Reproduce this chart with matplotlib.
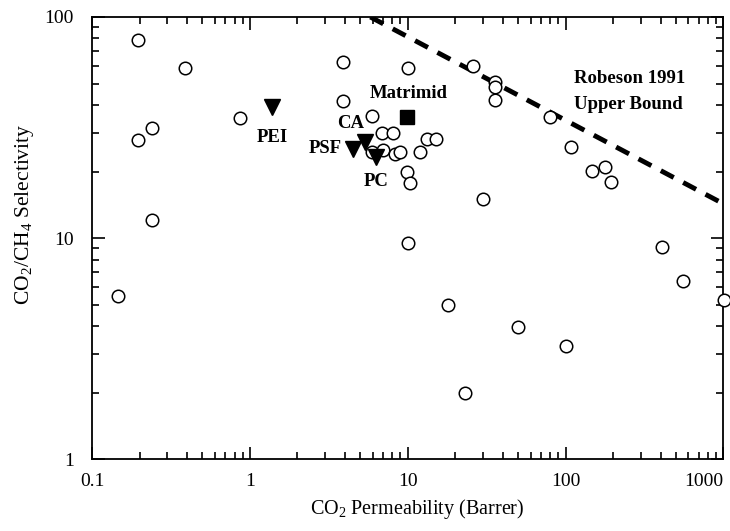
"""CO2/CH4 selectivity vs CO2 permeability (Robeson plot)."""

import matplotlib
matplotlib.use("Agg")
import matplotlib.pyplot as plt
from matplotlib.ticker import FixedLocator, LogLocator, NullFormatter

plt.rcParams.update({
    "font.family": "serif",
    "font.serif": ["Liberation Serif", "DejaVu Serif"],
    "mathtext.fontset": "custom",
    "mathtext.rm": "Liberation Serif",
    "mathtext.it": "Liberation Serif:italic",
    "mathtext.bf": "Liberation Serif:bold",
    "font.size": 12,
    "axes.linewidth": 1.3,
})

# literature polymers (open circles)
LIT_P = [0.146, 0.195, 0.195, 0.24, 0.24, 0.388, 0.865,
         3.88, 3.88, 5.92, 6.84, 8.03, 5.92, 6.95, 8.28, 8.9,
         9.86, 10.3, 10.0, 10.0, 11.9, 13.2, 15.0,
         25.8, 35.6, 35.6, 35.6, 79.3, 109, 148, 179, 195,
         29.9, 17.9, 49.7, 100, 23.0, 411, 551, 1014]
LIT_A = [5.5, 79, 27.7, 31.5, 12.1, 58.8, 34.9,
         62.5, 41.7, 35.7, 29.9, 29.9, 24.5, 25.0, 24.0, 24.5,
         19.9, 17.7, 58.8, 9.5, 24.5, 28.0, 28.0,
         60, 50.8, 48, 42.1, 35.3, 25.8, 20.1, 21.0, 17.9,
         15.0, 5.0, 3.96, 3.25, 2.0, 9.1, 6.4, 5.24]

# commercial polymers (filled triangles)
COM_NAMES = ["PEI", "CA", "PSF", "PC"]
COM_P = [1.38, 5.35, 4.49, 6.27]
COM_A = [39.2, 27.2, 25.3, 23.3]

# Matrimid (filled square)
MAT_P = [9.86]
MAT_A = [35.3]

# Robeson 1991 upper bound end points
ROB_P = [5.8, 1000]
ROB_A = [100, 14.3]


def main():
    fig = plt.figure(figsize=(7.3, 5.31), dpi=100)
    ax = fig.add_axes([0.126, 0.135, 0.865, 0.833])
    ax.set_xscale("log")
    ax.set_yscale("log")
    ax.set_xlim(0.1, 1000)
    ax.set_ylim(1, 100)

    ax.plot(LIT_P, LIT_A, linestyle="none", marker="o", markersize=9,
            markerfacecolor="white", markeredgecolor="black",
            markeredgewidth=1.1, zorder=3, clip_on=False)
    ax.plot(COM_P, COM_A, linestyle="none", marker="v", markersize=11,
            color="black", zorder=4)
    ax.plot(MAT_P, MAT_A, linestyle="none", marker="s", markersize=9.5,
            color="black", zorder=4)
    ax.plot(ROB_P, ROB_A, color="black", linewidth=3.5,
            dashes=(3, 2.2), zorder=2)

    offsets = {
        "PEI": ((0, -22), "center"),
        "CA": ((-10, 13), "center"),
        "PSF": ((-8, 0), "right"),
        "PC": ((0, -18), "center"),
    }
    for name, p, a in zip(COM_NAMES, COM_P, COM_A):
        off, ha = offsets[name]
        ax.annotate(name, xy=(p, a), xytext=off, textcoords="offset points",
                    ha=ha, va="center", fontsize=13.5, fontweight="bold")
    ax.annotate("Matrimid", xy=(MAT_P[0], MAT_A[0]), xytext=(-27, 17),
                textcoords="offset points", ha="left", va="center",
                fontsize=13.5, fontweight="bold")
    ax.text(0.763, 0.832, "Robeson 1991\nUpper Bound", transform=ax.transAxes,
            ha="left", va="center", fontsize=13.5, fontweight="bold",
            linespacing=1.7)

    ax.xaxis.set_major_locator(FixedLocator([0.1, 1, 10, 100, 1000]))
    ax.set_xticklabels(["0.1", "1", "10", "100", "1000"])
    ax.get_xticklabels()[-1].set_horizontalalignment("right")
    ax.yaxis.set_major_locator(FixedLocator([1, 10, 100]))
    ax.set_yticklabels(["1", "10", "100"])
    for axis in (ax.xaxis, ax.yaxis):
        axis.set_minor_locator(LogLocator(base=10, subs=range(2, 10)))
        axis.set_minor_formatter(NullFormatter())
    ax.tick_params(which="both", direction="in", top=True, right=True,
                   labelsize=14, width=1.2)
    ax.tick_params(which="major", length=9)
    ax.tick_params(axis="x", which="major", pad=10)
    ax.tick_params(axis="y", which="major", pad=13)
    ax.tick_params(which="minor", length=5)

    ax.set_xlabel(r"CO$_2$ Permeability (Barrer)", fontsize=14.5)
    ax.set_ylabel(r"CO$_2$/CH$_4$ Selectivity", fontsize=15.5)
    ax.xaxis.set_label_coords(0.515, -0.085)
    ax.yaxis.set_label_coords(-0.088, 0.555)

    fig.savefig("out.png", dpi=100, facecolor="white")
    plt.close(fig)


if __name__ == "__main__":
    main()
